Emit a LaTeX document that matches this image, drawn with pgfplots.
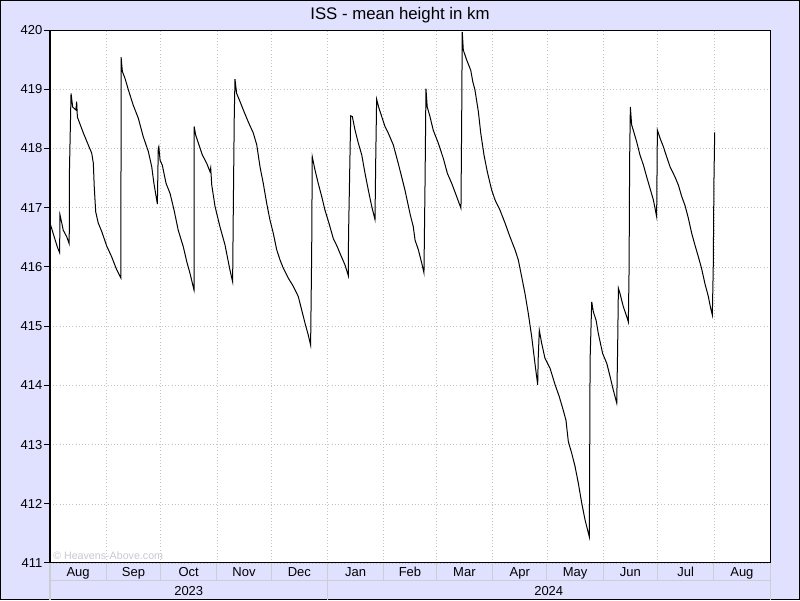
\documentclass[border=0pt]{standalone}
\usepackage{fontspec}
\setmainfont{Liberation Sans}
\usepackage{pgfplots}
\pgfplotsset{compat=1.18}
\definecolor{bgl}{RGB}{224,224,255}
\definecolor{sep}{RGB}{205,205,212}
\definecolor{gridc}{RGB}{195,195,195}
\definecolor{wmark}{RGB}{200,200,212}

\begin{document}
\begin{tikzpicture}
\fill[bgl] (0,0) rectangle (600pt,450pt);
\draw[line width=0.75pt] (0.375pt,0.375pt) rectangle (599.625pt,449.625pt);
\node[anchor=base, inner sep=0pt, font=\fontsize{12.6}{14}\selectfont] at (300pt,435pt) {ISS - mean height in km};

\begin{axis}[
    at={(37.5pt,27.75pt)}, anchor=south west,
    scale only axis, width=540pt, height=399.75pt,
    xmin=0, xmax=397, ymin=411, ymax=420,
    clip=false,
    axis background/.style={fill=white},
    axis line style={line width=0.75pt},
    ytick={411,412,...,420},
    ytick pos=left,
    xtick pos=bottom,
    ymajorgrids,
    y grid style={gridc, dotted},
    xtick={15.5,46,76.5,107,137.5,168.5,198.5,228.5,259,289.5,320,350.5,381.5},
    xticklabels={Aug,Sep,Oct,Nov,Dec,Jan,Feb,Mar,Apr,May,Jun,Jul,Aug},
    major x tick style={draw=none},
    minor xtick={31,61,92,122,153,184,213,244,274,305,335,366},
    minor x tick style={draw=none},
    xminorgrids,
    minor x grid style={gridc, dotted},
    tick align=outside,
    major tick length=4.5pt,
    tick style={black, line width=0.75pt},
    ticklabel style={font=\fontsize{9.75}{11}\selectfont},
    yticklabel style={/pgf/number format/assume math mode=true, inner xsep=1pt},
    xticklabel style={anchor=base, yshift=-6pt},
]
\addplot[black, line width=0.75pt, mark=none] coordinates {
(0,416.74) (2.6,416.48) (4.0,416.34) (5.3,416.24) (5.5,416.88) (6.5,416.74)
(7.3,416.62) (9.2,416.51) (10.6,416.39) (10.7,417.58) (11.6,418.93) (12.5,418.70)
(14.3,418.65) (14.7,418.79) (15.1,418.53) (18.4,418.26) (21.1,418.06) (23.0,417.92)
(23.9,417.75) (24.4,417.35) (25.2,416.93) (26.6,416.74) (28.5,416.60) (31.3,416.35)
(34.0,416.17) (36.8,415.95) (39.1,415.81) (39.2,419.54) (39.9,419.30) (41.4,419.18)
(43.2,418.99) (45.9,418.73) (48.7,418.51) (51.4,418.20) (54.2,417.95) (56.1,417.69)
(57.3,417.41) (58.4,417.21) (59.2,417.06) (59.7,418.00) (60.0,418.03) (60.7,417.80)
(61.9,417.72) (64.0,417.41) (66.2,417.24) (68.4,416.96) (70.7,416.62) (73.5,416.34)
(75.4,416.09) (77.2,415.89) (79.4,415.61) (79.5,418.37) (80.3,418.23) (81.8,418.09)
(84.0,417.89) (86.4,417.75) (88.2,417.61) (88.6,417.67) (89.2,417.38) (91.0,417.02)
(93.7,416.68) (96.5,416.37) (98.3,416.09) (99.2,415.95) (100.7,415.75) (101.1,417.07)
(101.6,418.54) (102.0,419.17) (102.9,418.93) (104.8,418.79) (106.6,418.65) (109.3,418.45)
(112.1,418.26) (114.0,418.06) (115.8,417.69) (117.6,417.41) (119.5,417.07) (121.3,416.79)
(123.1,416.57) (125.0,416.29) (126.8,416.12) (128.6,415.98) (131.4,415.81) (134.2,415.67)
(136.9,415.50) (138.8,415.27) (140.6,415.05) (142.4,414.85) (143.7,414.68) (144.3,416.29)
(144.6,417.86) (146.1,417.64) (147.9,417.41) (149.8,417.19) (151.6,416.96) (153.8,416.74)
(156.2,416.48) (158.4,416.34) (160.3,416.20) (162.7,416.03) (164.5,415.85) (164.6,416.51)
(165.4,417.86) (165.8,418.55) (166.7,418.54) (168.2,418.31) (170.0,418.09) (171.9,417.89)
(173.7,417.58) (175.5,417.30) (177.4,417.02) (179.2,416.80) (179.6,417.80) (180.1,418.83)
(181.4,418.68) (182.9,418.54) (184.7,418.37) (186.5,418.26) (189.3,418.06) (192.0,417.75)
(193.9,417.52) (195.7,417.30) (198.5,416.90) (200.3,416.68) (201.3,416.45) (203.1,416.29)
(205.0,416.06) (206.2,415.90) (206.8,417.44) (207.3,419.01) (208.0,418.70) (209.5,418.54)
(211.3,418.31) (214.1,418.09) (216.9,417.83) (219.1,417.58) (221.5,417.41) (224.2,417.19)
(226.6,416.99) (227.0,418.48) (227.3,419.97) (227.9,419.66) (229.8,419.49) (232.0,419.32)
(233.1,419.13) (234.3,418.99) (236.2,418.62) (237.5,418.26) (239.3,417.89) (241.1,417.61)
(243.5,417.30) (245.4,417.13) (248.1,416.96) (250.9,416.74) (253.6,416.51) (256.4,416.29)
(258.2,416.12) (260.1,415.83) (261.9,415.55) (263.7,415.22) (265.6,414.82) (267.4,414.37)
(268.9,414.01) (269.2,414.46) (269.8,414.93) (271.1,414.71) (272.9,414.46) (275.7,414.29)
(278.5,414.01) (280.8,413.81) (283.0,413.58) (284.5,413.41) (285.8,413.05) (287.7,412.85)
(289.5,412.63) (291.3,412.35) (293.2,412.01) (295.0,411.73) (297.4,411.44) (297.8,414.43)
(298.7,415.41) (299.6,415.24) (301.1,415.10) (302.3,414.88) (304.7,414.54) (307.0,414.37)
(308.8,414.15) (310.6,413.92) (312.5,413.70) (313.0,414.65) (313.4,415.64) (314.3,415.55)
(316.1,415.33) (318.0,415.16) (318.9,415.07) (319.3,415.97) (319.6,417.80) (320.0,418.70)
(320.7,418.40) (321.6,418.31) (323.5,418.11) (325.3,417.89) (327.2,417.72) (329.0,417.52)
(330.8,417.33) (332.7,417.13) (334.5,416.85) (334.9,418.31) (336.4,418.17) (338.2,418.03)
(340.0,417.86) (341.9,417.69) (344.6,417.52) (346.5,417.38) (348.3,417.19) (350.1,417.04)
(352.0,416.82) (353.8,416.57) (355.6,416.37) (357.5,416.17) (359.3,415.97) (361.1,415.72)
(363.0,415.50) (364.3,415.30) (365.2,415.19) (365.7,415.97) (366.1,417.47) (366.5,418.27)
};
% separators of the date band
\pgfplotsinvokeforeach{0,31,61,92,122,153,184,213,244,274,305,335,366,397}{
  \draw[sep, line width=0.75pt] (axis cs:#1,411) -- ([yshift=-13.5pt]axis cs:#1,411);
}
\draw[sep, line width=0.75pt] ([yshift=-13.5pt]axis cs:0,411) -- ([yshift=-13.5pt]axis cs:397,411);
\pgfplotsinvokeforeach{0,153,397}{
  \draw[sep, line width=0.75pt] ([yshift=-13.5pt]axis cs:#1,411) -- ([yshift=-27.4pt]axis cs:#1,411);
}
\node[anchor=base, inner sep=0pt, font=\fontsize{9.75}{11}\selectfont] at ([yshift=-24.5pt]axis cs:76.5,411) {2023};
\node[anchor=base, inner sep=0pt, font=\fontsize{9.75}{11}\selectfont] at ([yshift=-24.5pt]axis cs:275,411) {2024};
\node[anchor=base west, inner sep=0pt, text=wmark, font=\fontsize{8}{10}\selectfont] at ([xshift=2.25pt, yshift=2.25pt]axis cs:0,411) {\textcopyright{} Heavens-Above.com};
\end{axis}
\end{tikzpicture}
\end{document}
